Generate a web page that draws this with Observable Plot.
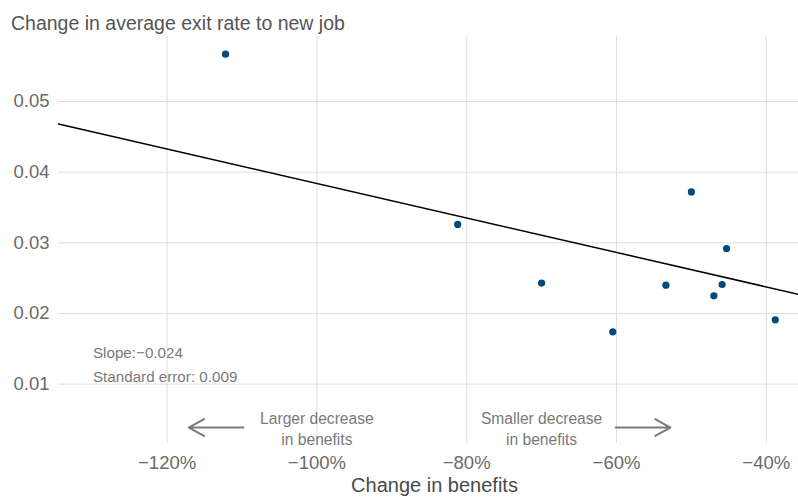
<!DOCTYPE html>
<html>
<head>
<meta charset="utf-8">
<script src="https://cdn.jsdelivr.net/npm/d3@7"></script>
<script src="https://cdn.jsdelivr.net/npm/@observablehq/plot@0.6"></script>
<style>
  body { margin: 0; background: #fff; }
</style>
</head>
<body>
<div id="chart"></div>
<script>
// Data
const benefitChange = [-112.2, -81.2, -70.0, -60.5, -53.4, -50.0, -47.0, -45.9, -45.3, -38.8]; // percent
const exitRateChange = [0.0567, 0.0326, 0.0243, 0.0174, 0.0240, 0.0372, 0.0225, 0.0241, 0.0292, 0.0191];

// Fitted line reported on the chart (slope per unit change, i.e. per 100%)
const fitSlope = -0.0244;
const fitIntercept = 0.0140;

const xTicks = [-120, -100, -80, -60, -40];
const yTicks = [0.01, 0.02, 0.03, 0.04, 0.05];
const xDomain = [-134.5, -35.7];
const yDomain = [0.0016, 0.0592];

const titleText = "Change in average exit rate to new job";
const xLabel = "Change in benefits";

const statNotes = [
  {x: -129.9, y: 0.01438, text: "Slope:\u22120.024"},
  {x: -129.9, y: 0.01099, text: "Standard error: 0.009"}
];
const directionNotes = [
  {x: -100, y: 0.00389, text: "Larger decrease\nin benefits"},
  {x: -70, y: 0.00389, text: "Smaller decrease\nin benefits"}
];
const directionArrows = [
  {x1: -109.8, x2: -117.1, y: 0.00386},
  {x1: -60.1, x2: -52.8, y: 0.00386}
];

const points = benefitChange.map((x, i) => ({x, y: exitRateChange[i]}));
const fitLine = xDomain.map(x => ({x, y: fitIntercept + fitSlope * (x / 100)}));

const fmtPct = d => (d < 0 ? "\u2212" : "") + Math.abs(d) + "%";
const fmtY = d3.format(".2f");

const chart = Plot.plot({
  width: 798,
  height: 502,
  marginLeft: 58,
  marginRight: 0,
  marginTop: 36,
  marginBottom: 59,
  style: {fontFamily: "'Liberation Sans', Arial, Helvetica, sans-serif", background: "#fff"},
  x: {domain: xDomain, ticks: xTicks, tickFormat: fmtPct},
  y: {domain: yDomain, ticks: yTicks, tickFormat: fmtY},
  marks: [
    Plot.gridX(xTicks, {stroke: "#dedede", strokeOpacity: 1, strokeWidth: 1}),
    Plot.gridY(yTicks, {stroke: "#dedede", strokeOpacity: 1, strokeWidth: 1}),
    Plot.axisX(xTicks, {tickSize: 0, tickPadding: 12, fontSize: 18.5, fill: "#6a6a6a", label: null, tickFormat: fmtPct}),
    Plot.axisY(yTicks, {tickSize: 0, tickPadding: 9, fontSize: 18.5, fill: "#6a6a6a", label: null, tickFormat: fmtY}),
    Plot.line(fitLine, {x: "x", y: "y", stroke: "#000", strokeWidth: 1.5}),
    Plot.dot(points, {x: "x", y: "y", r: 3.6, fill: "#00497c", stroke: "none"}),
    Plot.text(statNotes, {x: "x", y: "y", text: "text", textAnchor: "start", fontSize: 15.2, fill: "#7a7a7a"}),
    Plot.text(directionNotes, {x: "x", y: "y", text: "text", textAnchor: "middle", fontSize: 15.6, lineHeight: 1.35, fill: "#7a7a7a"}),
    Plot.arrow(directionArrows, {x1: "x1", x2: "x2", y1: "y", y2: "y", stroke: "#7a7a7a", strokeWidth: 2, headLength: 13, headAngle: 58}),
    Plot.text([titleText], {frameAnchor: "top-left", dx: -47.5, dy: -20, textAnchor: "start", fontSize: 19.5, fill: "#555"}),
    Plot.text([xLabel], {frameAnchor: "bottom", dx: 6, dy: 48.5, textAnchor: "middle", fontSize: 20, fill: "#4a4a4a"})
  ]
});
document.getElementById("chart").appendChild(chart);
</script>
</body>
</html>
